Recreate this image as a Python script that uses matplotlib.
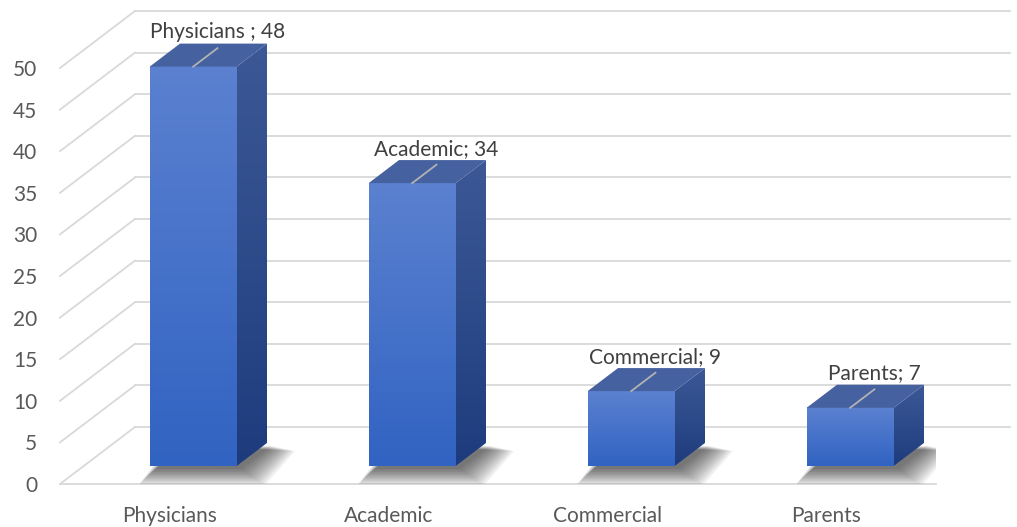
import matplotlib
matplotlib.use("Agg")
import matplotlib.pyplot as plt
import numpy as np
from matplotlib.patches import Polygon
from matplotlib.colors import LinearSegmentedColormap

categories = ["Physicians", "Academic", "Commercial", "Parents"]
values = [48, 34, 9, 7]
label_texts = ["Physicians ; 48", "Academic; 34", "Commercial; 9", "Parents; 7"]
yticks = list(range(0, 55, 5))

plt.rcParams["font.family"] = ["Lato", "DejaVu Sans"]

W, H = 1017, 527
fig = plt.figure(figsize=(W / 100, H / 100), dpi=100)
fig.patch.set_facecolor("white")

px_x = 876 / 4.0
px_y = 416 / 50.0

# front plane: x -0.5..3.5 -> px 60..936, y 0 at px 484, 8.32 px per unit
# axes reaches the top of the figure so the 3d parts are not clipped
ax = fig.add_axes([60 / W, (H - 484) / H, 876 / W, 484 / H])
ax.set_xlim(-0.5, 3.5)
ax.set_ylim(0, 484 / px_y)
for s in ax.spines.values():
    s.set_visible(False)

# 3d depth of the whole plot box, in data units
DX = 75 / px_x
DY = 57 / px_y
x_back_right = (1010 - 60) / px_x - 0.5

grid_c = "#d9d9d9"
for v in yticks:
    ax.plot([-0.5, -0.5 + DX], [v, v + DY], color=grid_c, lw=1.3, clip_on=False, zorder=1)
    ax.plot([-0.5 + DX, x_back_right], [v + DY, v + DY], color=grid_c, lw=1.3, clip_on=False, zorder=1)
ax.plot([-0.5, 3.5], [0, 0], color=grid_c, lw=1.3, clip_on=False, zorder=1)

bar_w = 87 / px_x
f0, f1 = 0.316, 0.72
bdx = (f1 - f0) * DX
bdy = (f1 - f0) * DY

front_cmap = LinearSegmentedColormap.from_list("front", ["#3163c2", "#5b81d0"])
side_cmap = LinearSegmentedColormap.from_list("side", ["#1e3c7d", "#3c5896"])
grad = np.linspace(0, 1, 256).reshape(-1, 1)

for i, (cat, val, lab) in enumerate(zip(categories, values, label_texts)):
    xl = i + f0 * DX - bar_w / 2
    xr = xl + bar_w
    yb = f0 * DY
    yt = yb + val

    # soft shadow on the floor (stacked translucent layers)
    sx, sy = 5 / px_x, -3 / px_y
    for k in range(12):
        g = k * 1.5
        gx, gy = g / px_x, g / px_y
        pts = [
            (xl - gx + sx, yb - gy + sy),
            (xr + gx * 1.4 + sx, yb - gy + sy),
            (xr + bdx + gx * 1.4 + sx, yb + bdy - gy * 0.3 + sy),
            (xl + bdx - gx + sx, yb + bdy + sy),
        ]
        ax.add_patch(Polygon(pts, closed=True, facecolor="black", edgecolor="none",
                             alpha=0.06, zorder=2))

    # front face
    ax.imshow(grad, cmap=front_cmap, origin="lower", aspect="auto",
              extent=[xl, xr, yb, yt], zorder=4, interpolation="bilinear")

    # side face
    side = Polygon([(xr, yb), (xr + bdx, yb + bdy), (xr + bdx, yt + bdy), (xr, yt)],
                   closed=True, facecolor="none", edgecolor="none", transform=ax.transData)
    im = ax.imshow(grad, cmap=side_cmap, origin="lower", aspect="auto",
                   extent=[xr, xr + bdx, yb, yt + bdy], zorder=4, interpolation="bilinear")
    im.set_clip_path(side)

    # top face
    ax.add_patch(Polygon([(xl, yt), (xr, yt), (xr + bdx, yt + bdy), (xl + bdx, yt + bdy)],
                         closed=True, facecolor="#46619f", edgecolor="none", zorder=5))

    # leader line and data label
    cx = (xl + xr) / 2
    ex, ey = cx + 0.8 * bdx, yt + 0.8 * bdy
    ax.plot([cx, ex], [yt, ey], color="#b3b3b3", lw=1.3, zorder=6)
    ax.annotate(lab, xy=(ex, ey), xytext=(0, 7.2), textcoords="offset points",
                ha="center", va="baseline", fontsize=15, color="#404040",
                zorder=7, annotation_clip=False)

ax.set_xlim(-0.5, 3.5)
ax.set_ylim(0, 484 / px_y)
ax.set_yticks(yticks)
ax.set_yticklabels([str(v) for v in yticks])
ax.set_xticks(range(len(categories)))
ax.set_xticklabels(categories)
ax.tick_params(axis="y", length=0, pad=16.5, labelsize=15, labelcolor="#595959")
ax.tick_params(axis="x", length=0, pad=15.5, labelsize=15, labelcolor="#595959")

fig.savefig("out.png", dpi=100, facecolor="white")
